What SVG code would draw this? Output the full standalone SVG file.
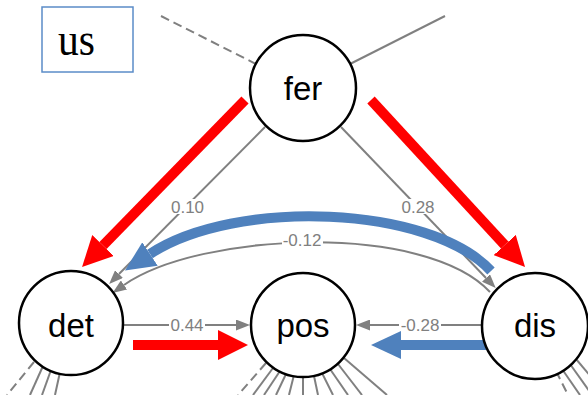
<svg xmlns="http://www.w3.org/2000/svg" width="588" height="395" viewBox="0 0 588 395">
  <style>
    .edge { fill: none; stroke: #808080; stroke-width: 2; }
    .dash { stroke-dasharray: 9 5; }
    .red { fill: none; stroke: #ff0000; stroke-width: 10; }
    .blue { fill: none; stroke: #4f81bd; stroke-width: 10; }
    .lbl { font-family: "Liberation Sans", Arial, sans-serif; font-size: 17px; fill: #808080; text-anchor: middle; }
    .lblbg { fill: #ffffff; }
    .node circle { fill: #ffffff; stroke: #000000; stroke-width: 2.5; }
    .node text { font-family: "Liberation Sans", Arial, sans-serif; font-size: 33px; fill: #000000; text-anchor: middle; }
  </style>
  <defs>
    <marker id="headGray" markerUnits="userSpaceOnUse" viewBox="0 -5.5 14 11" refX="0" refY="0" markerWidth="14" markerHeight="11" orient="auto">
      <path d="M0,-5.5 L14,0 L0,5.5 Z" fill="#808080"/>
    </marker>
    <marker id="headRed" markerUnits="userSpaceOnUse" viewBox="0 -15 30 30" refX="0" refY="0" markerWidth="30" markerHeight="30" orient="auto">
      <path d="M0,-15 L30,0 L0,15 Z" fill="#ff0000"/>
    </marker>
    <marker id="headBlue" markerUnits="userSpaceOnUse" viewBox="0 -14 30 28" refX="0" refY="0" markerWidth="30" markerHeight="28" orient="auto">
      <path d="M0,-14 L30,0 L0,14 Z" fill="#4f81bd"/>
    </marker>
  </defs>

  <rect width="588" height="395" fill="#ffffff"/>

  <g id="edges">
    <!-- edges leaving the frame -->
    <path class="edge dash" d="M161,16 L256,64"/>
    <path class="edge" d="M348,65 L445,16"/>

    <!-- det fan -->
    <path class="edge dash" d="M34,362 L7,395"/>
    <path class="edge" d="M43,366 L30,395"/>
    <path class="edge" d="M51,370 L42,395"/>
    <path class="edge" d="M60,372 L55,395"/>

    <!-- pos fan -->
    <path class="edge dash" d="M266,363 L238,395"/>
    <path class="edge" d="M273,368 L253,395"/>
    <path class="edge" d="M280,371 L264,395"/>
    <path class="edge" d="M286,374 L276,395"/>
    <path class="edge" d="M294,375 L289,395"/>
    <path class="edge" d="M303,375 L303,395"/>
    <path class="edge" d="M314,376 L318,395"/>
    <path class="edge" d="M322,373 L333,395"/>
    <path class="edge" d="M330,369 L348,395"/>
    <path class="edge" d="M338,364 L362,395"/>
    <path class="edge" d="M344,358 L387,395"/>

    <!-- dis fan -->
    <path class="edge dash" d="M556,371 L568,395"/>
    <path class="edge" d="M562,369 L580,395"/>
    <path class="edge" d="M570,364 L590,392"/>
    <path class="edge" d="M576,359 L592,378"/>

    <!-- fer -> det (0.10) -->
    <path class="edge" d="M265,127 L119,274" marker-end="url(#headGray)"/>
    <rect class="lblbg" x="170" y="199" width="35" height="15"/>
    <text class="lbl" x="187.5" y="213">0.10</text>

    <!-- fer -> dis (0.28) -->
    <path class="edge" d="M341,127 L486,278" marker-end="url(#headGray)"/>
    <rect class="lblbg" x="400" y="199" width="36" height="15"/>
    <text class="lbl" x="418" y="213">0.28</text>

    <!-- dis -> det (-0.12) -->
    <path class="edge" d="M490,292 C425,222 200,232 124,285" marker-end="url(#headGray)"/>
    <rect class="lblbg" x="282" y="232" width="41" height="15"/>
    <text class="lbl" x="302" y="246">-0.12</text>

    <!-- det -> pos (0.44) -->
    <path class="edge" d="M124,325 L236,325" marker-end="url(#headGray)"/>
    <rect class="lblbg" x="169" y="317" width="36" height="15"/>
    <text class="lbl" x="187" y="331">0.44</text>

    <!-- dis -> pos (-0.28) -->
    <path class="edge" d="M482,325 L370,325" marker-end="url(#headGray)"/>
    <rect class="lblbg" x="399" y="317" width="42" height="15"/>
    <text class="lbl" x="420" y="331">-0.28</text>

    <!-- highlighted paths -->
    <path class="red" d="M245,100 L103,245.5" marker-end="url(#headRed)"/>
    <path class="red" d="M371,100 L504.7,245" marker-end="url(#headRed)"/>
    <path class="red" d="M133,345 L218,345" marker-end="url(#headRed)"/>
    <path class="blue" d="M491,271 C430,205 235,198 150,254" marker-end="url(#headBlue)"/>
    <path class="blue" d="M486,345 L401,345" marker-end="url(#headBlue)"/>
  </g>

  <g id="legend">
    <rect x="42" y="7" width="91" height="65" fill="#ffffff" stroke="#5b8cc8" stroke-width="1.5"/>
    <text x="58" y="55" font-family="'Liberation Serif', 'Times New Roman', serif" font-size="46" textLength="37" lengthAdjust="spacingAndGlyphs" fill="#000000">us</text>
  </g>

  <g id="node-fer" class="node">
    <circle cx="303" cy="88" r="53"/>
    <text x="303" y="100">fer</text>
  </g>
  <g id="node-det" class="node">
    <circle cx="71" cy="323" r="52"/>
    <text x="71" y="337">det</text>
  </g>
  <g id="node-pos" class="node">
    <circle cx="303" cy="325" r="52"/>
    <text x="303" y="337">pos</text>
  </g>
  <g id="node-dis" class="node">
    <circle cx="535" cy="326" r="53"/>
    <text x="535" y="337">dis</text>
  </g>
</svg>
